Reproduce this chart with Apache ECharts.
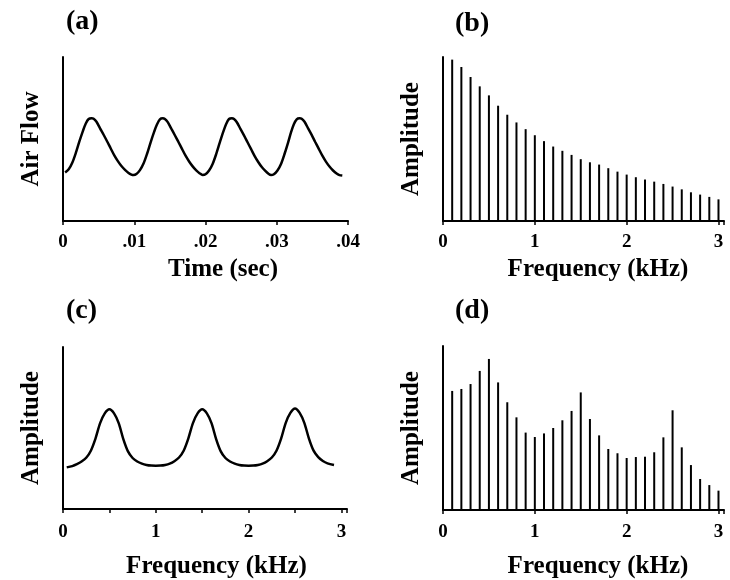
<!DOCTYPE html>
<html>
<head>
<meta charset="utf-8">
<script src="https://cdn.jsdelivr.net/npm/echarts@6/dist/echarts.min.js"></script>
<style>html,body{margin:0;padding:0;background:#fff}#c{width:730px;height:580px}</style>
</head>
<body>
<div id="c"></div>
<script>
// ---- Data ----
const panelLetters = ['(a)', '(b)', '(c)', '(d)'];
const xTickLabelsA = ['0', '.01', '.02', '.03', '.04'];
const xTickLabelsF = ['0', '1', '2', '3'];
const xNameA = 'Time (sec)';
const xNameF = 'Frequency (kHz)';
const yNameA = 'Air Flow';
const yNameAmp = 'Amplitude';

// (a) glottal air flow, time in ms
const timeA = [0.3,0.8,1.3,1.8,2.3,2.8,3.2,3.6,4.0,4.3,4.7,5.2,5.7,6.2,6.7,7.2,7.7,8.2,8.7,9.2,9.6,9.9,
  10.3,10.8,11.3,11.8,12.3,12.8,13.2,13.6,14.0,14.3,14.7,15.2,15.7,16.2,16.7,17.2,17.7,18.2,18.7,19.2,19.6,
  20.0,20.5,21.0,21.5,22.0,22.5,22.9,23.3,23.7,24.0,24.4,24.9,25.4,25.9,26.4,26.9,27.4,27.9,28.4,28.8,29.2,
  29.6,30.1,30.6,31.1,31.6,32.0,32.4,32.8,33.2,33.5,33.9,34.4,34.9,35.4,35.9,36.4,36.9,37.4,37.9,38.4,38.8,39.2];
const flowA = [29.6,31.5,35.5,41.5,48.5,55.0,59.5,62.2,62.6,62.3,60.5,56.5,52.6,48.5,44.2,40.0,36.5,33.5,31.2,29.3,28.3,28.0,
  28.6,31.0,35.0,41.0,48.0,54.5,59.0,62.0,62.6,62.2,60.3,56.3,52.3,48.2,44.0,39.8,36.3,33.3,30.9,29.0,28.1,
  28.5,30.8,34.8,40.8,47.8,54.5,59.2,62.2,62.6,62.2,60.2,56.2,52.2,48.0,43.8,39.6,36.0,32.9,30.5,28.9,28.0,
  28.5,30.8,34.8,41.0,48.0,54.0,59.0,62.0,62.6,62.3,60.5,56.5,52.5,48.2,44.0,39.8,36.2,33.2,30.8,28.9,28.0,27.7];

// (b) source spectrum harmonics (kHz) and amplitudes
const harmonics = [0.1,0.2,0.3,0.4,0.5,0.6,0.7,0.8,0.9,1.0,1.1,1.2,1.3,1.4,1.5,1.6,1.7,1.8,1.9,2.0,
  2.1,2.2,2.3,2.4,2.5,2.6,2.7,2.8,2.9,3.0];
const ampB = [98.4,93.9,87.8,82.1,76.6,70.3,64.8,60.1,56.0,52.3,48.7,45.4,42.8,40.3,37.7,35.8,34.4,32.2,30.1,28.3,
  26.7,25.3,24.0,22.6,21.0,19.3,17.5,16.1,14.7,13.2];

// (c) vocal tract transfer function
const freqC = [0.04,0.1,0.15,0.2,0.25,0.3,0.35,0.4,0.45,0.5,0.55,0.6,0.65,0.7,0.75,0.8,0.85,0.9,0.95,1.0,
  1.05,1.1,1.15,1.2,1.25,1.3,1.35,1.4,1.45,1.5,1.55,1.6,1.65,1.7,1.75,1.8,1.85,1.9,1.95,2.0,
  2.05,2.1,2.15,2.2,2.25,2.3,2.35,2.4,2.45,2.5,2.55,2.6,2.65,2.7,2.75,2.8,2.85,2.92];
const ampC = [25.7,26.5,27.7,29.3,31.6,36.0,43.5,53.0,59.0,61.5,59.0,53.0,43.2,35.6,31.5,29.3,28.0,27.2,26.8,26.7,
  26.8,27.2,28.0,29.5,31.8,36.0,43.5,53.0,59.0,61.5,59.0,53.0,43.2,35.6,31.5,29.3,28.0,27.2,26.8,26.7,
  26.8,27.2,28.0,29.5,31.8,36.0,43.5,53.2,59.3,62.0,59.3,53.2,43.5,36.0,32.0,29.6,28.2,27.2];

// (d) output spectrum amplitudes at the same harmonics
const ampD = [72.6,73.8,76.8,84.8,92.1,77.8,65.7,56.5,47.2,44.5,46.7,50.0,54.7,60.4,71.7,55.5,45.5,37.2,34.6,31.7,
  32.3,32.5,35.2,44.3,60.8,38.2,27.4,18.9,15.2,11.8];

// ---- Chart ----
const FONT = 'Liberation Serif';
const pair = (xs, ys) => xs.map((x, i) => [x, ys[i]]);

function yAxisDef(gi, name) {
  return {
    gridIndex: gi, type: 'value', min: 0, max: 100,
    name: name, nameLocation: 'middle', nameGap: 19,
    nameTextStyle: {fontFamily: FONT, fontWeight: 'bold', fontSize: 25, color: '#000'},
    axisLine: {show: true, lineStyle: {color: '#000', width: 2}},
    axisTick: {show: false}, axisLabel: {show: false}, splitLine: {show: false}
  };
}
function nameStyle(padLeft) {
  return {fontFamily: FONT, fontWeight: 'bold', fontSize: 25, color: '#000', padding: [0, 0, 0, padLeft]};
}
function xAxisDef(gi, opts) {
  return Object.assign({
    gridIndex: gi, type: 'value', nameLocation: 'middle', nameGap: 36,
    axisLine: {show: true, onZero: false, lineStyle: {color: '#000', width: 2}},
    axisTick: {show: true, length: 4, lineStyle: {color: '#000', width: 1.5}},
    splitLine: {show: false}
  }, opts);
}
const labelStyle = {fontFamily: FONT, fontWeight: 'bold', fontSize: 19, color: '#000', margin: 12};
const freqFormatter = v => (Math.abs(v - Math.round(v)) < 1e-6 && Math.round(v) < xTickLabelsF.length) ? xTickLabelsF[Math.round(v)] : '';

const letterPos = [[66, 8], [455, 10], [66, 297], [455, 297]];

const option = {
  animation: false,
  backgroundColor: '#fff',
  title: panelLetters.map((t, i) => ({
    text: t, left: letterPos[i][0], top: letterPos[i][1], padding: 0,
    textStyle: {fontFamily: FONT, fontWeight: 'bold', fontSize: 28, color: '#000'}
  })),
  grid: [
    {left: 63, top: 57, width: 285, height: 164},
    {left: 443, top: 57, width: 281, height: 164},
    {left: 63, top: 347, width: 284, height: 162},
    {left: 443, top: 346, width: 281, height: 164}
  ],
  xAxis: [
    xAxisDef(0, {min: 0, max: 40, interval: 10, name: xNameA, nameTextStyle: nameStyle(35),
      axisLabel: Object.assign({}, labelStyle, {formatter: v => xTickLabelsA[Math.round(v / 10)]})}),
    xAxisDef(1, {min: 0, max: 3.06, interval: 1, name: xNameF, nameTextStyle: nameStyle(29),
      axisLabel: Object.assign({}, labelStyle, {formatter: freqFormatter})}),
    xAxisDef(2, {min: 0, max: 3.06, interval: 0.5, name: xNameF, nameTextStyle: nameStyle(23), nameGap: 45,
      axisLabel: Object.assign({}, labelStyle, {margin: 14, formatter: freqFormatter})}),
    xAxisDef(3, {min: 0, max: 3.06, interval: 1, name: xNameF, nameTextStyle: nameStyle(29), nameGap: 44,
      axisLabel: Object.assign({}, labelStyle, {margin: 13, formatter: freqFormatter})})
  ],
  yAxis: [yAxisDef(0, yNameA), yAxisDef(1, yNameAmp), yAxisDef(2, yNameAmp), yAxisDef(3, yNameAmp)],
  series: [
    {type: 'line', xAxisIndex: 0, yAxisIndex: 0, data: pair(timeA, flowA), showSymbol: false, smooth: 0.3,
      lineStyle: {color: '#000', width: 2.5}},
    {type: 'bar', xAxisIndex: 1, yAxisIndex: 1, data: pair(harmonics, ampB), barWidth: 2,
      itemStyle: {color: '#000'}},
    {type: 'line', xAxisIndex: 2, yAxisIndex: 2, data: pair(freqC, ampC), showSymbol: false, smooth: 0.3,
      lineStyle: {color: '#000', width: 2.5}},
    {type: 'bar', xAxisIndex: 3, yAxisIndex: 3, data: pair(harmonics, ampD), barWidth: 2,
      itemStyle: {color: '#000'}}
  ]
};
const chart = echarts.init(document.getElementById('c'), null, {renderer: 'canvas'});
chart.setOption(option);
</script>
</body>
</html>
